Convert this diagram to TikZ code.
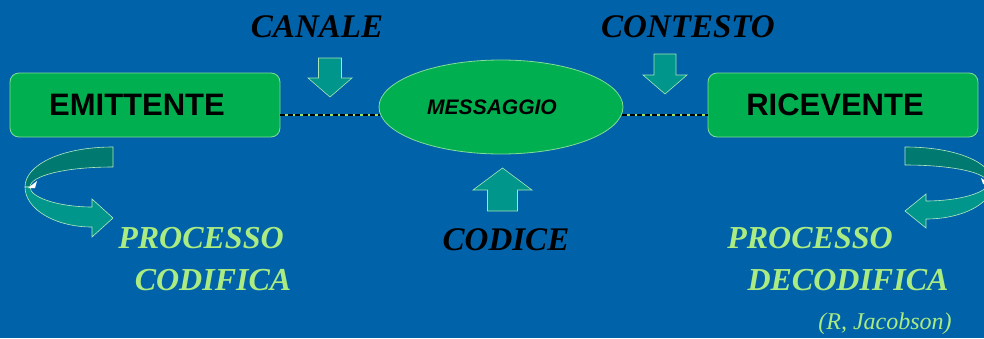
\documentclass[tikz,border=0pt]{standalone}
\usepackage{fontspec}
\setmainfont{Liberation Serif}
\setsansfont{Liberation Sans}
\usetikzlibrary{shapes.geometric, positioning, calc}
\definecolor{cBg}{RGB}{0,99,170}
\definecolor{cBox}{RGB}{0,176,80}
\definecolor{cEdge}{RGB}{130,220,150}
\definecolor{cTeal}{RGB}{0,150,140}
\definecolor{cTealD}{RGB}{0,122,112}
\definecolor{cTxt}{RGB}{170,235,130}
\definecolor{cDash}{RGB}{150,230,100}

% block arrow: x, tail, head base, tip, shaft half, head half
\newcommand{\blockarrow}[6]{%
  \draw[arrowbody] (#1-#5,#2) -- (#1+#5,#2) -- (#1+#5,#3) -- (#1+#6,#3)
    -- (#1,#4) -- (#1-#6,#3) -- (#1-#5,#3) -- cycle;}

\begin{document}
\begin{tikzpicture}[x=1pt, y=-1pt,
    box/.style={draw=cEdge, line width=0.8pt, fill=cBox, rounded corners=9pt,
      minimum width=270pt, minimum height=64pt,
      font=\sffamily\bfseries\fontsize{31}{33}\selectfont},
    msgshape/.style={ellipse, draw=cEdge, line width=0.8pt, fill=cBox, inner sep=0pt,
      minimum width=244pt, minimum height=94pt,
      font=\sffamily\bfseries\itshape\fontsize{21}{23}\selectfont},
    tag/.style={font=\bfseries\itshape\fontsize{33}{35}\selectfont, text=black},
    note/.style={font=\bfseries\itshape\fontsize{32}{34}\selectfont, text=cTxt},
    linkbase/.style={draw=cDash, line width=1.6pt},
    linkdash/.style={draw=black, line width=1.6pt, dash pattern=on 5pt off 2.5pt},
    arrowbody/.style={fill=cTeal, draw=cEdge!70!white, line width=0.6pt},
    curlback/.style={fill=cTealD, draw=cEdge!60!white, line width=0.6pt},
    curlfront/.style={fill=cTeal, draw=cEdge!60!white, line width=0.6pt}]

    % background
    \useasboundingbox (0,0) rectangle (984,338);
    \fill[cBg] (0,0) rectangle (984,338);
    \clip (0,0) rectangle (984,338);

    % sender and receiver
    \node[box] (emit) at (145,105) {EMITTENTE\hspace*{16pt}};
    \node[box] (ricev) at (843,105) {RICEVENTE\hspace*{16pt}};

    % dashed links
    \draw[linkbase] ($(emit.east)+(0,10)$) -- (380,115);
    \draw[linkdash] ($(emit.east)+(0,10)$) -- (380,115);
    \draw[linkbase] (622,115) -- ($(ricev.west)+(0,10)$);
    \draw[linkdash] (622,115) -- ($(ricev.west)+(0,10)$);

    % message
    \node[msgshape] (msg) at (501,107) {\raisebox{-4pt}{MESSAGGIO}\hspace*{18pt}};

    % factors
    \node[tag] (canale) at (317,27) {CANALE};
    \node[tag] (contesto) at (688,27) {CONTESTO};
    \node[tag] (codice) at (506,240) {CODICE};

    % block arrows
    \blockarrow{330}{58}{78}{97}{11.5}{22}
    \blockarrow{665}{54}{75}{94}{11}{22}
    \blockarrow{502.5}{211}{190}{168}{15}{29.5}

    % curl arrow left
    \draw[curlback] (113,147) .. controls (61,147) and (25,165) .. (25,187)
      -- (30,187) .. controls (30,176) and (64,167) .. (113,167) -- cycle;
    \draw[curlfront] (25,187) .. controls (25,209) and (55,227) .. (92,227)
      -- (92,237) -- (113,218) -- (92,199) -- (92,207)
      .. controls (60,207) and (30,198) .. (30,187) -- cycle;
    \fill[white] (28,188) -- (37,181) -- (35,188) -- cycle;

    % curl arrow right
    \draw[curlback] (905,147) .. controls (957,147) and (993,163) .. (993,183)
      -- (988,183) .. controls (988,173) and (954,165) .. (905,165) -- cycle;
    \draw[curlfront] (993,183) .. controls (993,203) and (963,219) .. (926,219)
      -- (926,228) -- (905,211) -- (926,194) -- (926,201)
      .. controls (958,201) and (988,193) .. (988,183) -- cycle;
    \fill[white] (990,184) -- (981,178) -- (983,184) -- cycle;

    % process labels
    \node[note] (proc1) at (201,238) {PROCESSO};
    \node[note] (cod) at (213,280) {CODIFICA};
    \node[note] (proc2) at (810,238) {PROCESSO};
    \node[note] (decod) at (848,280) {DECODIFICA};
    \node[note, font=\itshape\fontsize{24}{26}\selectfont] (autore) at (885,324) {(R, Jacobson)};
\end{tikzpicture}
\end{document}
